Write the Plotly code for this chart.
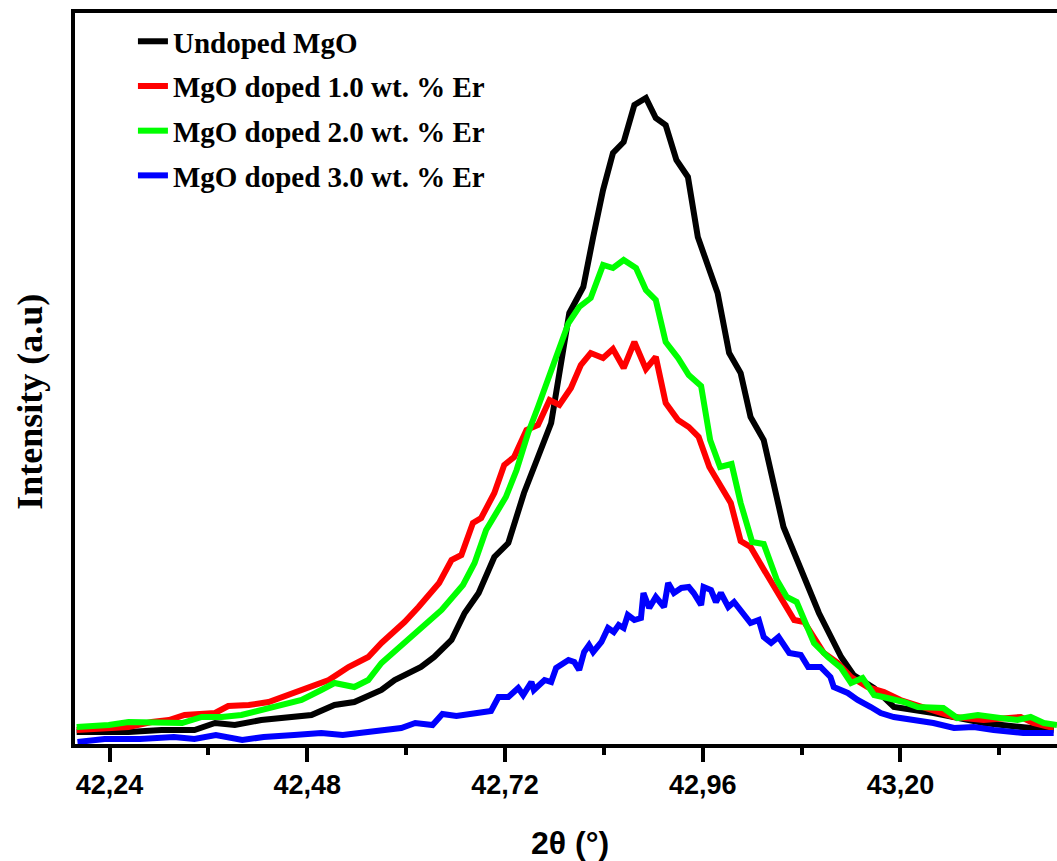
import plotly.graph_objects as go

# ---- data (2theta in degrees, intensity in arbitrary units) ----
two_theta_undoped = [42.200, 42.222, 42.263, 42.303, 42.343, 42.368, 42.392, 42.424, 42.457, 42.485,
                     42.513, 42.537, 42.570, 42.586, 42.618, 42.634, 42.655, 42.671, 42.688, 42.707,
                     42.724, 42.743, 42.760, 42.776, 42.798, 42.815, 42.827, 42.839, 42.851, 42.864,
                     42.877, 42.891, 42.903, 42.915, 42.928, 42.942, 42.954, 42.966, 42.978, 42.992,
                     43.006, 43.018, 43.034, 43.058, 43.073, 43.088, 43.101, 43.128, 43.143, 43.168,
                     43.192, 43.240, 43.301, 43.346, 43.386]
intensity_undoped = [12, 12, 12, 14, 14, 21, 19, 24, 27, 29,
                     39, 42, 54, 64, 77, 87, 104, 131, 151, 187,
                     201, 251, 287, 321, 431, 457, 507, 554, 591, 602,
                     639, 646, 626, 619, 584, 567, 507, 481, 451, 391,
                     371, 327, 304, 217, 187, 154, 131, 87, 69, 56,
                     37, 31, 21, 17, 14]

two_theta_er10 = [42.200, 42.234, 42.263, 42.291, 42.312, 42.331, 42.368, 42.384, 42.409, 42.433,
                  42.457, 42.481, 42.506, 42.530, 42.554, 42.570, 42.598, 42.615, 42.640, 42.655,
                  42.667, 42.681, 42.691, 42.707, 42.719, 42.731, 42.746, 42.760, 42.774, 42.786,
                  42.800, 42.812, 42.824, 42.839, 42.851, 42.864, 42.877, 42.891, 42.903, 42.915,
                  42.930, 42.943, 42.955, 42.968, 42.981, 42.994, 43.006, 43.018, 43.033, 43.051,
                  43.071, 43.083, 43.095, 43.107, 43.124, 43.140, 43.160, 43.180, 43.200, 43.233,
                  43.265, 43.301, 43.346, 43.361, 43.386]
intensity_er10 = [14, 16, 17, 22, 24, 29, 31, 38, 39, 42,
                  49, 56, 64, 77, 87, 101, 122, 137, 161, 184,
                  189, 221, 226, 251, 279, 287, 314, 319, 344, 339,
                  356, 379, 391, 386, 395, 376, 402, 375, 387, 341,
                  324, 317, 307, 277, 258, 241, 203, 197, 176, 151,
                  124, 122, 107, 91, 81, 67, 57, 52, 44, 36,
                  27, 24, 27, 21, 16]

two_theta_er20 = [42.200, 42.239, 42.263, 42.303, 42.328, 42.352, 42.376, 42.400, 42.424, 42.449,
                  42.473, 42.497, 42.513, 42.537, 42.554, 42.570, 42.606, 42.643, 42.669, 42.683,
                  42.697, 42.712, 42.721, 42.734, 42.748, 42.760, 42.770, 42.782, 42.797, 42.810,
                  42.824, 42.839, 42.851, 42.864, 42.879, 42.891, 42.903, 42.915, 42.930, 42.943,
                  42.958, 42.969, 42.981, 42.995, 43.006, 43.020, 43.034, 43.050, 43.062, 43.074,
                  43.095, 43.112, 43.128, 43.140, 43.154, 43.168, 43.184, 43.204, 43.221, 43.252,
                  43.269, 43.294, 43.321, 43.342, 43.358, 43.374, 43.390]
intensity_er20 = [17, 19, 22, 21, 21, 27, 27, 29, 34, 39,
                  44, 54, 61, 57, 64, 81, 107, 134, 159, 181,
                  214, 234, 247, 274, 311, 337, 361, 387, 421, 437,
                  446, 479, 476, 484, 476, 454, 444, 402, 386, 369,
                  358, 304, 277, 280, 241, 202, 200, 164, 147, 142,
                  101, 87, 76, 61, 66, 49, 46, 42, 37, 36,
                  26, 29, 26, 24, 27, 21, 19]

two_theta_er30 = [42.201, 42.234, 42.277, 42.318, 42.343, 42.369, 42.401, 42.427, 42.464, 42.497,
                  42.523, 42.560, 42.594, 42.611, 42.632, 42.644, 42.661, 42.686, 42.703, 42.712,
                  42.724, 42.736, 42.742, 42.752, 42.755, 42.768, 42.776, 42.782, 42.797, 42.804,
                  42.810, 42.816, 42.822, 42.827, 42.837, 42.845, 42.852, 42.858, 42.864, 42.869,
                  42.877, 42.885, 42.888, 42.895, 42.903, 42.913, 42.918, 42.925, 42.934, 42.943,
                  42.949, 42.958, 42.961, 42.970, 42.976, 42.982, 42.991, 42.998, 43.006, 43.018,
                  43.028, 43.034, 43.043, 43.052, 43.065, 43.079, 43.088, 43.103, 43.115, 43.119,
                  43.136, 43.148, 43.164, 43.176, 43.192, 43.216, 43.240, 43.265, 43.289, 43.313,
                  43.349, 43.386]
intensity_er30 = [2, 5, 5, 7, 5, 9, 4, 7, 9, 11,
                  9, 12, 16, 21, 19, 30, 28, 31, 33, 47,
                  47, 56, 49, 62, 54, 64, 62, 76, 84, 82,
                  74, 92, 99, 92, 102, 116, 112, 119, 116, 129,
                  124, 126, 151, 136, 147, 137, 161, 151, 156, 157,
                  151, 139, 157, 154, 142, 151, 137, 142, 134, 121,
                  124, 107, 101, 107, 91, 89, 77, 77, 67, 57,
                  51, 44, 37, 31, 27, 24, 21, 16, 17, 14,
                  11, 11]

series_names = ["Undoped MgO", "MgO doped 1.0 wt. % Er",
                "MgO doped 2.0 wt. % Er", "MgO doped 3.0 wt. % Er"]
series_colors = ["#000000", "#ff0000", "#00ff00", "#0000ff"]

major_ticks = [42.24, 42.48, 42.72, 42.96, 43.20]
major_tick_text = ["42,24", "42,48", "42,72", "42,96", "43,20"]
minor_ticks = [42.36, 42.60, 42.84, 43.08, 43.32]

xs = [two_theta_undoped, two_theta_er10, two_theta_er20, two_theta_er30]
ys = [intensity_undoped, intensity_er10, intensity_er20, intensity_er30]

fig = go.Figure()
for i, (x, y, name, col) in enumerate(zip(xs, ys, series_names, series_colors)):
    fig.add_trace(go.Scatter(x=x, y=y, mode="lines", name=name,
                             legendgroup=f"g{i}",
                             line=dict(color=col, width=6)))

fig.update_layout(
    width=1057, height=861,
    margin=dict(l=75, r=0, t=13, b=117),
    paper_bgcolor="white", plot_bgcolor="white",
    showlegend=True,
    legend=dict(
        x=0.059, y=0.996, xanchor="left", yanchor="top",
        bgcolor="rgba(0,0,0,0)", borderwidth=0,
        font=dict(family="Liberation Serif, Times New Roman, serif", size=29, color="black",
                  weight="bold"),
        tracegroupgap=4, itemwidth=30,
    ),
    xaxis=dict(
        range=[42.198, 43.39],
        tickmode="array", tickvals=major_ticks, ticktext=major_tick_text,
        ticks="outside", ticklen=14, tickwidth=4, tickcolor="black",
        ticklabelstandoff=0,
        minor=dict(tickmode="array", tickvals=minor_ticks, ticks="outside",
                   ticklen=7, tickwidth=4, tickcolor="black"),
        tickfont=dict(family="Liberation Sans, Arial, sans-serif", size=27, color="black",
                      weight="bold"),
        showline=True, linewidth=4, linecolor="black", mirror=True,
        showgrid=False, zeroline=False, automargin=False,
    ),
    yaxis=dict(
        range=[0, 731],
        showticklabels=False, ticks="",
        showline=True, linewidth=4, linecolor="black", mirror=False,
        showgrid=False, zeroline=False, automargin=False,
    ),
    annotations=[
        dict(text="<b>Intensity (a.u)</b>", xref="paper", yref="paper",
             x=-0.046, y=0.468, textangle=-90, showarrow=False,
             xanchor="center", yanchor="middle",
             font=dict(family="Liberation Serif, Times New Roman, serif", size=36, color="black")),
        dict(text="<b>2θ (°)</b>", xref="paper", yref="paper",
             x=0.504, y=-0.135, showarrow=False,
             xanchor="center", yanchor="middle",
             font=dict(family="Liberation Sans, Arial, sans-serif", size=32, color="black")),
    ],
)

fig.write_html(
    "out.html",
    config={"displayModeBar": False},
    post_script="document.body.style.margin='0';document.body.style.padding='0';"
                "document.body.style.overflow='hidden';"
                "document.documentElement.style.overflow='hidden';",
)
